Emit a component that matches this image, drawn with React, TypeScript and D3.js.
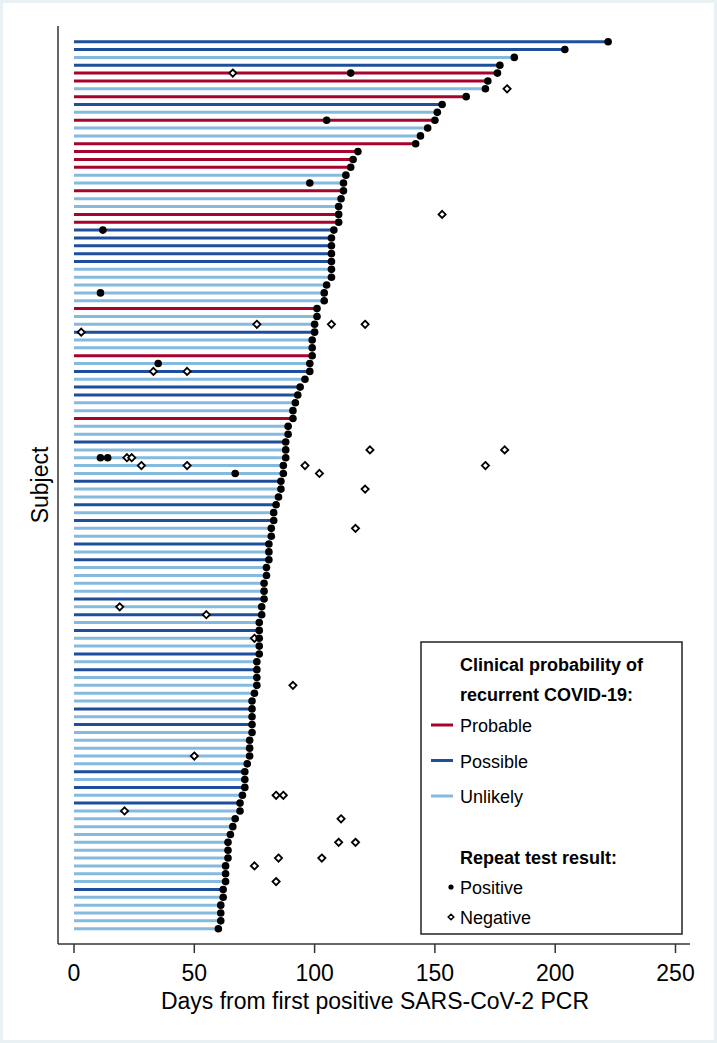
import React from 'react'
import * as d3 from 'd3'

const R = 'Probable'
const P = 'Possible'
const U = 'Unlikely'

// clinical probability per subject, top row first
const probability = [
  P, P, U, P, R, R, U, R, P, U,
  R, U, U, R, R, R, R, U, U, R,
  U, U, R, R, P, P, P, P, P, U,
  U, U, U, U, R, U, U, P, U, U,
  R, U, P, U, P, P, U, U, R, U,
  U, P, U, U, U, U, P, U, U, P,
  U, P, U, U, P, U, P, U, U, U,
  U, P, U, P, U, P, U, U, P, U,
  P, U, U, U, U, P, U, P, U, U,
  U, U, U, P, U, P, U, P, U, U,
  U, U, U, U, U, U, U, U, P, U,
  U, U, U, U,
]

// days to last positive test (end of each line)
const lastPositive = [
  222, 204, 183, 177, 176, 172, 171, 163, 153, 151,
  150, 147, 144, 142, 118, 116, 115, 113, 112, 112,
  111, 110, 110, 110, 108, 107, 107, 107, 107, 107,
  107, 105, 104, 104, 101, 101, 100, 100, 99, 99,
  99, 98, 98, 96, 94, 93, 92, 91, 91, 89,
  89, 88, 88, 88, 87, 87, 86, 86, 85, 84,
  83, 83, 82, 82, 81, 81, 81, 80, 80, 79,
  79, 79, 78, 78, 77, 77, 77, 77, 77, 76,
  76, 76, 76, 75, 74, 74, 74, 74, 74, 73,
  73, 73, 72, 71, 71, 71, 70, 69, 69, 67,
  66, 65, 64, 64, 64, 63, 63, 63, 62, 62,
  61, 61, 61, 60,
]

// other positive repeat tests: [subject row, day]
const otherPositive: [number, number][] = [
  [5, 115], [11, 105], [19, 98], [25, 12], [33, 11], [42, 35],
  [54, 11], [54, 14], [56, 67],
]

// negative repeat tests: [subject row, day]
const negatives: [number, number][] = [
  [5, 66], [7, 180], [23, 153], [37, 76], [37, 107], [37, 121], [38, 3],
  [43, 33], [43, 47], [53, 123], [53, 179], [54, 22], [54, 24],
  [55, 28], [55, 47], [55, 96], [55, 171], [56, 102], [58, 121], [63, 117],
  [73, 19], [74, 55], [77, 75], [83, 91], [92, 50], [97, 84], [97, 87],
  [99, 21], [100, 111], [103, 110], [103, 117], [105, 85], [105, 103],
  [106, 75], [108, 84],
]

const xTicks = [0, 50, 100, 150, 200, 250]

const colors: Record<string, string> = {
  Probable: '#a6032f',
  Possible: '#1e4f9c',
  Unlikely: '#84bade',
}

const W = 717
const H = 1043
const font = '"Liberation Sans", Arial, sans-serif'

const diamond = (cx: number, cy: number, s: number) =>
  `M${cx},${cy - s}L${cx + s},${cy}L${cx},${cy + s}L${cx - s},${cy}Z`

export default function App() {
  const rows = probability.map((p, i) => ({ row: i + 1, p, end: lastPositive[i] }))

  const x = d3.scaleLinear().domain([0, 250]).range([74, 675.5])
  const y = d3
    .scalePoint<number>()
    .domain(rows.map((d) => d.row))
    .range([41.7, 928.7])

  const plotLeft = 58
  const plotRight = 690
  const plotTop = 26
  const plotBottom = 944

  const legendItems = [R, P, U]

  return (
    <svg
      width={W}
      height={H}
      style={{ position: 'absolute', left: 0, top: 0 }}
      fontFamily={font}
    >
      <rect width={W} height={H} fill="#e9f1f4" />
      <rect x={3} y={3} width={W - 6} height={H - 6} fill="#ffffff" />

      {/* subject lines */}
      {rows.map((d) => (
        <line
          key={'l' + d.row}
          x1={x(0)}
          x2={x(d.end)}
          y1={y(d.row)}
          y2={y(d.row)}
          stroke={colors[d.p]}
          strokeWidth={3}
        />
      ))}

      {/* negative tests */}
      {negatives.map(([r, day], i) => (
        <path
          key={'n' + i}
          d={diamond(x(day), y(r)!, 3.6)}
          fill="#fff"
          stroke="#000"
          strokeWidth={1.8}
        />
      ))}

      {/* positive tests */}
      {otherPositive.map(([r, day], i) => (
        <circle key={'p' + i} cx={x(day)} cy={y(r)} r={3.8} fill="#000" />
      ))}
      {rows.map((d) => (
        <circle key={'e' + d.row} cx={x(d.end)} cy={y(d.row)} r={3.8} fill="#000" />
      ))}

      {/* axes */}
      <line x1={plotLeft} x2={plotLeft} y1={plotTop} y2={plotBottom} stroke="#333" strokeWidth={1.5} />
      <line x1={plotLeft} x2={plotRight} y1={plotBottom} y2={plotBottom} stroke="#333" strokeWidth={1.5} />
      {xTicks.map((t) => (
        <g key={t}>
          <line x1={x(t)} x2={x(t)} y1={plotBottom} y2={plotBottom + 9} stroke="#333" strokeWidth={1.5} />
          <text x={x(t)} y={plotBottom + 37} textAnchor="middle" fontSize={23} fill="#000">
            {t}
          </text>
        </g>
      ))}
      <text x={375} y={1009} textAnchor="middle" fontSize={23} fill="#000">
        Days from first positive SARS-CoV-2 PCR
      </text>
      <text
        transform={`translate(48,${(plotTop + plotBottom) / 2}) rotate(-90)`}
        textAnchor="middle"
        fontSize={23}
        fill="#000"
      >
        Subject
      </text>

      {/* legend */}
      <rect x={421} y={642} width={261} height={292} fill="#fff" stroke="#222" strokeWidth={1.5} />
      <text x={460} y={671} fontSize={18} fontWeight="bold">Clinical probability of</text>
      <text x={460} y={701} fontSize={18} fontWeight="bold">recurrent COVID-19:</text>
      {legendItems.map((k, i) => (
        <g key={k}>
          <line x1={431} x2={453} y1={725 + i * 35.5} y2={725 + i * 35.5} stroke={colors[k]} strokeWidth={3} />
          <text x={460} y={732 + i * 35.5} fontSize={18}>{k}</text>
        </g>
      ))}
      <text x={460} y={864} fontSize={18} fontWeight="bold">Repeat test result:</text>
      <circle cx={451} cy={887} r={2.6} fill="#000" />
      <text x={460} y={894} fontSize={18}>Positive</text>
      <path d={diamond(451, 917, 2.8)} fill="#fff" stroke="#000" strokeWidth={1.5} />
      <text x={460} y={924} fontSize={18}>Negative</text>
    </svg>
  )
}
